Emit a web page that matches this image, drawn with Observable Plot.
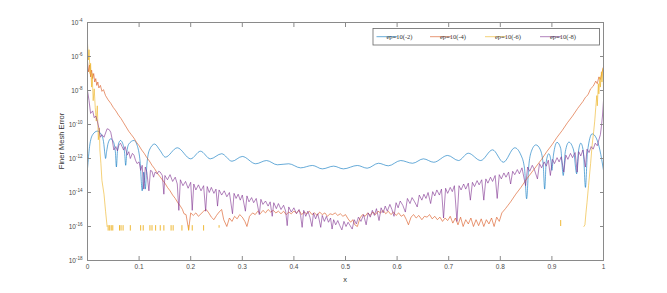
<!DOCTYPE html>
<html><head><meta charset="utf-8">
<script src="https://cdn.jsdelivr.net/npm/d3@7"></script>
<script src="https://cdn.jsdelivr.net/npm/@observablehq/plot@0.6"></script>
<style>body{margin:0;background:#fff}</style>
</head><body><div id="chart"></div>
<script>
// ---- tick values / labels ----
const xTicks = [0,0.1,0.2,0.3,0.4,0.5,0.6,0.7,0.8,0.9,1];
const xTickLabels = ["0","0.1","0.2","0.3","0.4","0.5","0.6","0.7","0.8","0.9","1"];
const yTicks = [1e-18,1e-16,1e-14,1e-12,1e-10,1e-8,1e-6,1e-4];
const yTickExponents = ["-18","-16","-14","-12","-10","-8","-6","-4"];
const seriesNames = ["ep=10(-2)","ep=10(-4)","ep=10(-6)","ep=10(-8)"];
const seriesColors = ["#0072BD","#D95319","#EDB120","#7E2F8E"];

// ---- series: [x, log10(error)] ----
const blueSeries = [
[0,-12.6],[0.004,-11.3],[0.01,-10.6],[0.019,-10.39],[0.026,-10.55],[0.031,-11.0],[0.034,-11.8],[0.035,-12.0],
[0.037,-11.6],[0.04,-11.1],[0.045,-10.84],[0.05,-11.0],[0.054,-11.6],[0.056,-12.5],[0.058,-11.6],[0.06,-11.15],
[0.064,-10.94],[0.068,-11.1],[0.072,-11.7],[0.074,-12.4],[0.076,-11.7],[0.08,-11.15],[0.09,-10.94],[0.097,-11.3],
[0.102,-12.2],[0.106,-13.9],[0.109,-12.8],[0.112,-13.8],[0.115,-12.4],[0.12,-11.5],[0.13,-11.15],[0.14,-11.5],
[0.151,-11.92],[0.174,-11.37],[0.2,-12.02],[0.219,-11.57],[0.238,-12.02],[0.26,-11.72],[0.28,-12.16],[0.30,-11.88],
[0.326,-12.31],[0.347,-12.12],[0.368,-12.37],[0.39,-12.31],[0.413,-12.55],[0.436,-12.41],[0.455,-12.61],[0.477,-12.45],
[0.496,-12.61],[0.523,-12.41],[0.542,-12.57],[0.564,-12.28],[0.583,-12.43],[0.607,-12.12],[0.63,-12.28],[0.651,-12.02],
[0.671,-12.22],[0.698,-11.82],[0.719,-12.12],[0.738,-11.69],[0.762,-12.12],[0.785,-11.49],[0.806,-12.22],[0.828,-11.37],
[0.84,-11.8],[0.847,-12.6],[0.851,-14.37],[0.855,-12.5],[0.86,-11.6],[0.869,-11.2],[0.877,-11.45],[0.883,-12.3],
[0.886,-13.8],[0.889,-12.2],[0.894,-11.72],[0.898,-12.1],[0.9,-12.7],[0.903,-11.8],[0.91,-11.05],[0.917,-11.4],
[0.922,-13.0],[0.926,-11.6],[0.933,-11.04],[0.942,-11.5],[0.948,-12.9],[0.951,-11.7],[0.956,-11.1],[0.961,-11.6],
[0.965,-13.7],[0.969,-11.6],[0.978,-10.55],[0.986,-10.8],[0.993,-11.5],[1.0,-12.7]
];
const orangeSeries = [
[0,-6.3],[0.002,-6.9],[0.004,-6.5],[0.006,-7.2],[0.008,-6.8],[0.01,-7.3],[0.012,-7.0],[0.014,-7.5],[0.016,-7.3],
[0.018,-7.7],[0.02,-7.5],[0.022,-7.85],[0.025,-7.7],[0.028,-8.05],[0.031,-7.95],[0.035,-8.3],[0.04,-8.55],[0.045,-8.75],
[0.05,-9.0],[0.055,-9.2],[0.06,-9.45],[0.065,-9.65],[0.07,-9.9],[0.075,-10.15],[0.08,-10.4],[0.085,-10.6],[0.09,-10.8],
[0.095,-11.05],[0.1,-11.25],[0.105,-11.5],[0.11,-11.7],[0.115,-11.95],[0.12,-12.15],[0.125,-12.4],[0.13,-12.6],
[0.135,-12.85],[0.14,-13.05],[0.145,-13.25],[0.15,-13.45],[0.155,-13.7],[0.16,-13.9],[0.165,-14.15],[0.17,-14.35],
[0.175,-14.6],[0.18,-14.8],[0.184,-15.0],[0.187,-15.25],[0.191,-15.3],[0.196,-16.2],
[0.2,-15.2],[0.205,-15.35],[0.21,-15.2],[0.215,-15.4],[0.22,-15.25],[0.225,-15.1],[0.23,-15.0],[0.235,-15.2],[0.24,-15.45],
[0.245,-15.6],[0.25,-15.35],[0.255,-15.15],[0.26,-15.0],[0.264,-15.6],[0.27,-16.0],[0.275,-15.5],[0.28,-15.7],[0.285,-15.4],
[0.29,-15.55],[0.295,-15.3],[0.3,-15.45],[0.305,-15.7],[0.309,-16.0],[0.314,-15.4],[0.32,-15.2],[0.325,-15.3],[0.33,-15.1],
[0.335,-15.25],[0.34,-15.05],[0.345,-15.2],[0.35,-15.0],[0.355,-15.15],[0.36,-15.05],[0.365,-15.2],[0.37,-15.1],[0.375,-15.25],
[0.38,-15.1],[0.385,-15.3],[0.39,-15.15],[0.395,-15.25],[0.4,-15.1],[0.405,-15.2],[0.41,-15.05],[0.415,-15.3],[0.42,-15.15],
[0.425,-15.25],[0.43,-15.1],[0.435,-15.3],[0.44,-15.2],[0.445,-15.35],[0.45,-15.15],[0.455,-15.3],[0.46,-15.2],[0.465,-15.4],
[0.47,-15.25],[0.475,-15.3],[0.48,-15.2],[0.485,-15.35],[0.49,-15.25],[0.495,-15.4],[0.5,-15.3],[0.505,-15.55],[0.51,-15.75],
[0.514,-15.6],[0.518,-15.9],[0.523,-16.0],[0.528,-15.5],[0.533,-15.3],[0.538,-15.4],[0.543,-15.2],[0.548,-15.35],[0.553,-15.15],
[0.558,-15.3],[0.563,-15.1],[0.568,-15.2],[0.573,-15.05],[0.578,-15.25],[0.583,-15.1],[0.588,-15.3],[0.593,-15.15],[0.598,-15.35],
[0.603,-15.2],[0.608,-15.4],[0.613,-15.3],[0.618,-15.6],[0.622,-15.9],[0.627,-15.45],[0.632,-15.3],[0.637,-15.5],[0.642,-15.35],
[0.648,-15.6],[0.653,-15.4],[0.658,-15.45],[0.663,-15.3],[0.668,-15.55],[0.673,-15.4],[0.678,-15.6],[0.683,-15.45],[0.688,-15.7],
[0.693,-15.5],[0.698,-15.65],[0.703,-15.4],[0.708,-15.8],[0.713,-15.5],[0.718,-15.9],[0.723,-15.45],[0.728,-16.0],[0.733,-15.6],
[0.738,-15.85],[0.743,-15.5],[0.748,-16.0],[0.753,-15.6],[0.758,-15.95],[0.763,-15.55],[0.768,-16.0],[0.773,-15.6],[0.778,-15.85],
[0.783,-15.5],[0.788,-16.0],[0.793,-15.45],[0.798,-15.7],[0.803,-15.2],[0.81,-14.95],[0.815,-14.75],[0.82,-14.55],[0.83,-14.1],
[0.84,-13.7],[0.85,-13.25],[0.86,-12.85],[0.87,-12.45],[0.88,-12.05],[0.89,-11.6],[0.9,-11.2],[0.91,-10.75],[0.92,-10.35],
[0.93,-9.9],[0.94,-9.5],[0.95,-9.05],[0.96,-8.65],[0.965,-8.4],[0.97,-8.25],[0.975,-7.9],[0.98,-7.75],[0.985,-7.45],
[0.988,-7.6],[0.991,-7.2],[0.994,-7.35],[0.997,-6.95],[1.0,-6.6]
];
const yellowLeft = [
[0,-5.25],[0.002,-6.2],[0.003,-5.6],[0.005,-7.0],[0.006,-6.4],[0.008,-7.8],[0.009,-7.0],[0.011,-8.6],[0.013,-7.9],
[0.015,-9.0],[0.017,-9.8],[0.019,-8.9],[0.021,-10.9],[0.023,-10.2],[0.024,-11.5],[0.026,-12.3],[0.028,-13.3],
[0.032,-14.1],[0.035,-15.1],[0.038,-16.0]
];
const yellowRight = [
[0.962,-16.0],[0.964,-15.9],[0.966,-15.2],[0.968,-14.6],[0.971,-13.6],[0.975,-12.3],[0.978,-11.2],[0.981,-10.4],
[0.983,-9.8],[0.985,-9.0],[0.987,-8.3],[0.988,-8.9],[0.99,-7.6],[0.991,-8.2],[0.993,-7.2],[0.994,-7.8],[0.996,-6.9],
[0.997,-7.5],[0.999,-6.7],[1.0,-7.9]
];
// yellow round-off floor: short segments [x, upper log10, lower log10]
const yellowFloor = [
[0.040,-15.95,-16.27],[0.043,-15.95,-16.27],[0.046,-15.95,-16.27],[0.049,-15.95,-16.27],[0.062,-15.95,-16.27],
[0.065,-15.95,-16.27],[0.069,-15.95,-16.27],[0.083,-15.95,-16.27],[0.103,-15.95,-16.27],[0.108,-15.95,-16.27],
[0.121,-15.95,-16.27],[0.125,-15.95,-16.27],[0.132,-15.95,-16.27],[0.141,-15.95,-16.27],[0.148,-15.95,-16.27],
[0.162,-15.95,-16.27],[0.166,-15.95,-16.27],[0.183,-15.95,-16.27],[0.196,-15.95,-16.27],[0.203,-15.95,-16.27],
[0.225,-15.95,-16.27],[0.255,-15.95,-16.1],[0.917,-15.65,-16.0]
];
const purpleSeries = [
[0,-8.0],[0.003,-8.6],[0.006,-9.35],[0.01,-9.2],[0.013,-9.6],[0.016,-9.5],[0.019,-9.8],[0.022,-10.2],[0.025,-10.75],
[0.028,-10.6],[0.032,-10.75],[0.035,-10.5],[0.038,-10.25],[0.042,-10.3],[0.045,-10.45],[0.048,-10.9],[0.051,-11.5],
[0.055,-11.3],[0.058,-11.55],[0.061,-11.2],[0.064,-11.1],[0.067,-11.3],[0.07,-11.5],[0.073,-11.3],[0.077,-11.8],
[0.08,-11.6],[0.083,-12.0],[0.087,-11.7],[0.09,-11.8],[0.093,-12.1],[0.096,-12.3],[0.1,-12.2],[0.103,-12.7],[0.106,-12.4],
[0.109,-13.8],[0.112,-12.5],[0.115,-12.8],[0.119,-13.9],[0.122,-12.7],[0.125,-12.75],[0.128,-13.1],[0.131,-12.8],
[0.135,-12.9],[0.138,-12.75],[0.141,-12.8],[0.145,-13.0],[0.148,-14.1],[0.150,-13.0],[0.155,-13.25],[0.160,-12.95],
[0.165,-13.35],[0.170,-13.1],[0.174,-13.5],[0.177,-15.05],[0.180,-13.25],[0.185,-13.6],[0.190,-13.35],[0.195,-13.75],
[0.200,-13.4],[0.203,-15.05],[0.206,-13.5],[0.210,-13.85],[0.215,-13.55],[0.220,-13.9],[0.225,-13.6],[0.229,-15.1],
[0.232,-13.65],[0.236,-14.0],[0.240,-13.7],[0.245,-14.05],[0.249,-13.8],[0.252,-14.8],[0.255,-13.85],[0.260,-14.15],
[0.265,-13.9],[0.270,-14.25],[0.275,-14.0],[0.281,-15.25],[0.284,-14.05],[0.288,-14.35],[0.292,-14.1],[0.296,-14.45],
[0.300,-14.15],[0.306,-15.1],[0.309,-14.2],[0.313,-14.55],[0.318,-14.3],[0.322,-14.6],[0.327,-14.35],[0.333,-15.3],
[0.336,-14.4],[0.340,-14.7],[0.345,-14.5],[0.350,-14.8],[0.354,-14.55],[0.358,-15.4],[0.361,-14.6],[0.366,-14.95],
[0.370,-14.65],[0.375,-15.0],[0.380,-14.75],[0.384,-15.1],[0.387,-15.95],[0.390,-14.85],[0.395,-15.15],[0.400,-14.9],
[0.405,-15.25],[0.410,-15.0],[0.413,-15.35],[0.416,-16.05],[0.419,-15.05],[0.423,-15.4],[0.427,-15.1],[0.431,-15.45],
[0.435,-16.0],[0.438,-15.2],[0.442,-15.55],[0.446,-15.25],[0.449,-15.6],[0.452,-16.05],[0.455,-15.35],[0.459,-15.7],
[0.463,-15.4],[0.467,-15.75],[0.471,-15.5],[0.474,-16.15],[0.477,-15.6],[0.481,-15.9],[0.485,-15.65],[0.489,-15.95],
[0.493,-16.2],[0.497,-15.7],[0.501,-16.0],[0.505,-15.75],[0.509,-15.95],[0.513,-16.15],[0.517,-15.6],[0.521,-15.85],
[0.525,-15.45],[0.53,-15.7],[0.535,-15.3],[0.540,-15.9],[0.544,-15.2],[0.548,-15.45],[0.552,-15.05],[0.556,-15.35],
[0.560,-14.95],[0.565,-15.65],[0.569,-14.9],[0.573,-15.2],[0.577,-14.8],[0.581,-15.1],[0.586,-14.7],[0.590,-15.0],
[0.594,-15.4],[0.598,-14.6],[0.602,-14.9],[0.606,-14.5],[0.611,-14.75],[0.616,-15.15],[0.620,-14.35],[0.625,-14.65],
[0.629,-14.3],[0.634,-14.55],[0.639,-14.85],[0.643,-14.15],[0.648,-14.45],[0.652,-14.1],[0.656,-14.35],[0.660,-14.0],
[0.665,-14.65],[0.669,-13.95],[0.673,-14.2],[0.677,-13.85],[0.682,-14.15],[0.686,-13.8],[0.690,-15.5],[0.694,-13.75],
[0.698,-14.05],[0.703,-13.7],[0.707,-13.95],[0.711,-13.6],[0.716,-15.7],[0.720,-13.6],[0.724,-13.85],[0.729,-13.5],
[0.733,-13.8],[0.738,-13.45],[0.742,-14.45],[0.746,-13.4],[0.750,-13.65],[0.755,-13.3],[0.759,-13.55],[0.764,-13.25],
[0.768,-14.45],[0.772,-13.2],[0.776,-13.45],[0.781,-13.1],[0.785,-13.35],[0.790,-13.0],[0.794,-14.35],[0.798,-12.95],
[0.802,-13.2],[0.807,-12.85],[0.811,-13.1],[0.816,-12.8],[0.820,-13.5],[0.824,-12.75],[0.828,-12.95],[0.833,-12.65],
[0.837,-12.9],[0.842,-12.55],[0.849,-13.6],[0.853,-12.5],[0.857,-12.75],[0.862,-12.4],[0.866,-12.65],[0.872,-13.2],
[0.876,-12.3],[0.880,-12.55],[0.885,-12.2],[0.889,-12.45],[0.893,-12.1],[0.897,-13.0],[0.901,-12.05],[0.905,-12.3],
[0.910,-11.95],[0.914,-12.2],[0.918,-11.9],[0.923,-12.8],[0.927,-11.8],[0.931,-12.05],[0.936,-11.7],[0.940,-11.95],
[0.945,-11.65],[0.949,-12.8],[0.952,-11.6],[0.956,-11.85],[0.960,-11.5],[0.965,-12.5],[0.968,-11.45],[0.972,-11.65],
[0.976,-11.3],[0.980,-11.45],[0.984,-11.1],[0.988,-11.25],[0.991,-10.9],[0.994,-10.6],[0.996,-10.1],[0.998,-9.5],[1.0,-8.6]
];

// ---- build tables ----
const toRows = s => s.map(([x, e]) => ({x, err: Math.pow(10, e)}));
const floorRows = yellowFloor.map(([x, hi, lo]) => ({x, y1: Math.pow(10, hi), y2: Math.pow(10, lo)}));
const lw = 0.6;
const axisStroke = "#8a8a8a";
const textFill = "#4a4a4a";
const yIndex = d => yTicks.findIndex(t => Math.abs(Math.log10(t) - Math.log10(d)) < 1e-6);

const chart = Plot.plot({
  width: 667, height: 293,
  marginLeft: 87, marginRight: 64, marginTop: 22, marginBottom: 33,
  style: {fontFamily: "'Liberation Sans', Arial, sans-serif", fontSize: "6.5px", background: "#fff", overflow: "visible"},
  x: {domain: [0, 1]},
  y: {type: "log", domain: [1e-18, 1e-4]},
  marks: [
    Plot.line(toRows(blueSeries), {x: "x", y: "err", stroke: seriesColors[0], strokeWidth: lw, curve: "monotone-x"}),
    Plot.line(toRows(orangeSeries), {x: "x", y: "err", stroke: seriesColors[1], strokeWidth: lw}),
    Plot.line(toRows(yellowLeft), {x: "x", y: "err", stroke: seriesColors[2], strokeWidth: lw}),
    Plot.line(toRows(yellowRight), {x: "x", y: "err", stroke: seriesColors[2], strokeWidth: lw}),
    Plot.ruleX(floorRows, {x: "x", y1: "y1", y2: "y2", stroke: seriesColors[2], strokeWidth: 0.9}),
    Plot.line(toRows(purpleSeries), {x: "x", y: "err", stroke: seriesColors[3], strokeWidth: lw}),
    Plot.frame({stroke: axisStroke, strokeWidth: 1}),
    Plot.axisX({anchor: "bottom", ticks: xTicks, tickSize: -4, tickPadding: 8, label: null, stroke: axisStroke, fill: textFill,
      tickFormat: d => xTickLabels[xTicks.findIndex(t => Math.abs(t - d) < 1e-9)]}),
    Plot.axisX({anchor: "top", ticks: xTicks, tickSize: -4, label: null, stroke: axisStroke, tickFormat: () => ""}),
    Plot.axisY({anchor: "left", ticks: yTicks, tickSize: -4, tickPadding: 9, label: null, stroke: axisStroke, fill: textFill,
      tickFormat: d => "10^" + yTickExponents[yIndex(d)]}),
    Plot.axisY({anchor: "right", ticks: yTicks, tickSize: -4, label: null, stroke: axisStroke, tickFormat: () => ""})
  ]
});
document.getElementById("chart").appendChild(chart);

const svg = d3.select(chart);
// render "10^-n" tick labels as base + superscript
svg.selectAll("text").each(function() {
  const t = d3.select(this);
  const s = t.text();
  if (s.startsWith("10^")) {
    t.text("");
    t.append("tspan").text("10");
    t.append("tspan").attr("dy", "-0.55em").style("font-size", "4.6px").text(s.slice(3));
  }
});

// ---- axis titles and legend ----
svg.append("text").attr("x", 345).attr("y", 282).attr("text-anchor", "middle")
  .attr("fill", "#333").style("font-size", "7.5px").text("x");
svg.append("text").attr("transform", "translate(64,141) rotate(-90)").attr("text-anchor", "middle")
  .attr("fill", "#333").style("font-size", "7.5px").text("Finer Mesh Error");

const lg = svg.append("g");
lg.append("rect").attr("x", 373).attr("y", 28.5).attr("width", 226.5).attr("height", 16.5)
  .attr("fill", "#fff").attr("stroke", "#666").attr("stroke-width", 0.8);
const itemX = [376.5, 430, 485, 540];
seriesNames.forEach((name, i) => {
  lg.append("line").attr("x1", itemX[i]).attr("x2", itemX[i] + 21).attr("y1", 36.7).attr("y2", 36.7)
    .attr("stroke", seriesColors[i]).attr("stroke-width", lw);
  lg.append("text").attr("x", itemX[i] + 23).attr("y", 36.7).attr("dy", "0.33em")
    .attr("fill", "#333").style("font-family", "'Liberation Serif', 'Times New Roman', serif").style("font-size", "6.5px").text(name);
});
</script>
</body></html>
